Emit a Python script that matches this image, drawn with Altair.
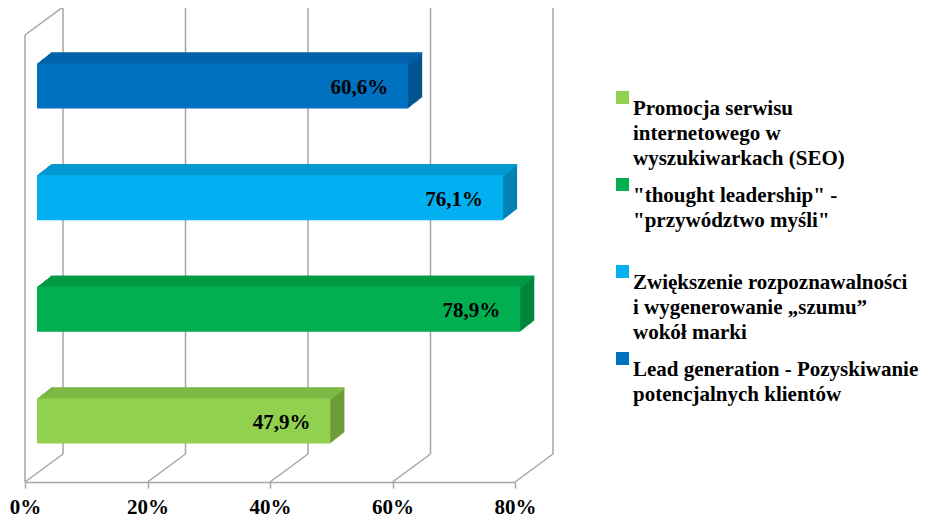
import altair as alt
import pandas as pd

# ---- data (legend order = bottom-to-top bar order) ----
categories = [
    "Promocja serwisu|internetowego w|wyszukiwarkach (SEO)",
    "\"thought leadership\" -|\"przywództwo myśli\"",
    "Zwiększenie rozpoznawalności|i wygenerowanie „szumu”|wokół marki",
    "Lead generation - Pozyskiwanie|potencjalnych klientów",
]
values = [47.9, 78.9, 76.1, 60.6]
front_colors = ["#92D050", "#00B050", "#00B0F0", "#0070C0"]
top_colors = ["#7DB844", "#009A45", "#0098D0", "#0062A8"]
side_colors = ["#6A9C38", "#00853B", "#0082B4", "#00548F"]
tick_values = [0, 20, 40, 60, 80]

labels = [f"{v:.1f}".replace(".", ",") + "%" for v in values]
df = pd.DataFrame({
    "cat": categories, "value": values, "label": labels,
    "top": top_colors, "side": side_colors,
})
ticks = pd.DataFrame({"tick": tick_values})

W, H = 490, 447
BACK_DX, BACK_DY = 38, -28
BAR_DX, BAR_DY = 12, -5
EXT_DX, EXT_DY = 14, -11
N = 14
BW = 45
GRID = "#A6A6A6"
FONT = "Liberation Serif"

xscale = alt.Scale(domain=[0, 80], nice=False, zero=True)
yscale = alt.Scale(domain=categories[::-1], paddingInner=0.597, paddingOuter=0.3)

base = alt.Chart(df)
tbase = alt.Chart(ticks)

layers = []
# back wall vertical gridlines
layers.append(tbase.mark_rule(color=GRID, strokeWidth=1.5, xOffset=BACK_DX,
                              yOffset=BACK_DY, y2Offset=BACK_DY).encode(
    x=alt.X("tick:Q", scale=xscale, axis=alt.Axis(
        values=tick_values, labelExpr="datum.value + '%'", grid=False,
        labelFlush=False,
        domainColor=GRID, domainWidth=1.5, tickColor=GRID, tickWidth=1.5,
        tickSize=6, labelFont=FONT, labelFontWeight="bold", labelFontSize=21,
        labelColor="black", labelPadding=8, title=None)),
    y=alt.value(0), y2=alt.value(H)))
# floor diagonals
layers.append(tbase.mark_rule(color=GRID, strokeWidth=1.5, xOffset=BACK_DX, x2Offset=0,
                              yOffset=BACK_DY, y2Offset=0).encode(
    x="tick:Q", x2="tick:Q", y=alt.value(H), y2=alt.value(H)))
# left wall front edge
layers.append(tbase.transform_filter("datum.tick == 0").mark_rule(
    color=GRID, strokeWidth=1.5).encode(x="tick:Q", y=alt.value(0), y2=alt.value(H)))
# left wall top diagonal
layers.append(tbase.transform_filter("datum.tick == 0").mark_rule(
    color=GRID, strokeWidth=1.5, xOffset=0, x2Offset=BACK_DX, yOffset=0,
    y2Offset=BACK_DY).encode(x="tick:Q", x2="tick:Q", y=alt.value(0), y2=alt.value(0)))

# bar extrusion (side faces)
for k in range(1, N + 1):
    ox = BAR_DX + EXT_DX * k / N
    oy = BAR_DY + EXT_DY * k / N
    layers.append(base.mark_bar(xOffset=ox, x2Offset=ox, yOffset=oy).encode(
        x=alt.X("value:Q", scale=xscale, stack=None),
        x2=alt.datum(0),
        y=alt.Y("cat:N", scale=yscale, axis=None),
        color=alt.Color("side:N", scale=None)))
# top faces
for k in range(0, N + 1):
    ox = BAR_DX + EXT_DX * k / N
    oy = BAR_DY + EXT_DY * k / N - BW / 2 + 1
    layers.append(base.mark_bar(height=2, xOffset=ox, x2Offset=ox, yOffset=oy).encode(
        x=alt.X("value:Q", scale=xscale, stack=None),
        x2=alt.datum(0),
        y=alt.Y("cat:N", scale=yscale, axis=None),
        color=alt.Color("top:N", scale=None)))
# front faces
layers.append(base.mark_bar(xOffset=BAR_DX, x2Offset=BAR_DX, yOffset=BAR_DY).encode(
    x=alt.X("value:Q", scale=xscale, stack=None),
    x2=alt.datum(0),
    y=alt.Y("cat:N", scale=yscale, axis=None),
    color=alt.Color("cat:N", scale=alt.Scale(domain=categories, range=front_colors),
                    legend=alt.Legend(
                        title=None, orient="none", legendX=587, legendY=52,
                        symbolType="square", symbolSize=169, symbolStrokeWidth=0,
                        labelExpr="split(datum.label, '|')",
                        labelFont=FONT, labelFontWeight="bold", labelFontSize=21,
                        labelColor="black", labelLimit=400, rowPadding=5,
                        gridAlign="all",
                        labelOffset=0, labelBaseline="top"))))
# value labels
layers.append(base.mark_text(align="right", baseline="middle", font=FONT,
                             fontWeight="bold", fontSize=21, color="black",
                             xOffset=BAR_DX - 20, yOffset=BAR_DY + 2).encode(
    x=alt.X("value:Q", scale=xscale),
    y=alt.Y("cat:N", scale=yscale, axis=None),
    text="label:N"))

chart = alt.layer(*layers).properties(
    width=W, height=H,
    autosize=alt.AutoSizeParams(type="none"),
    padding={"left": 17, "top": 27, "right": 411, "bottom": 38},
).configure(view=alt.ViewConfig(stroke="transparent"),
            style={"guide-label": {"lineHeight": 25}})

chart.save("out.html", embed_options={"renderer": "svg", "actions": False})
